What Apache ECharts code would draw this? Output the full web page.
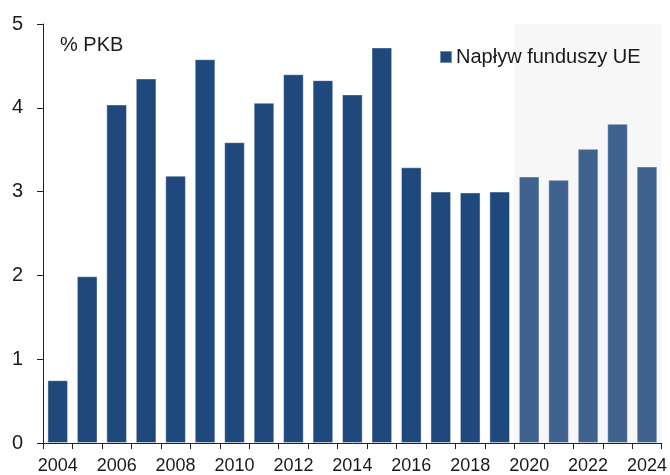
<!DOCTYPE html>
<html>
<head>
<meta charset="utf-8">
<script src="https://cdn.jsdelivr.net/npm/echarts@6/dist/echarts.min.js"></script>
<style>
  html, body { margin: 0; padding: 0; background: #fff; }
  #chart { width: 670px; height: 475px; }
</style>
</head>
<body>
<div id="chart"></div>
<script>
  // lata
  const years = ['2004', '2005', '2006', '2007', '2008', '2009', '2010', '2011', '2012', '2013', '2014',
    '2015', '2016', '2017', '2018', '2019', '2020', '2021', '2022', '2023', '2024'];
  // napływ funduszy UE, % PKB
  const inflow = [0.75, 1.99, 4.04, 4.35, 3.19, 4.58, 3.59, 4.06, 4.40, 4.33, 4.16,
    4.72, 3.29, 3.00, 2.99, 3.00, 3.18, 3.14, 3.51, 3.81, 3.30];
  // od tego roku tlo szare i jasniejsze slupki
  const shadeFrom = '2020';
  const shadeTop = 5;

  const dark = '#1f497c';
  const light = '#40628e';
  const fontName = '"Liberation Sans", Arial, sans-serif';

  const startIdx = years.indexOf(shadeFrom);
  const barData = inflow.map((v, i) => i >= startIdx ? {value: v, itemStyle: {color: light}} : v);
  const shadeData = years.map((y, i) => i >= startIdx ? shadeTop : null);

  const myChart = echarts.init(document.getElementById('chart'), null, {renderer: 'canvas'});
  myChart.setOption({
    animation: false,
    textStyle: {fontFamily: fontName},
    title: {
      text: '% PKB',
      left: 60,
      top: 35,
      padding: 0,
      textStyle: {fontSize: 20, fontWeight: 'normal', color: '#1a1a1a', fontFamily: fontName}
    },
    legend: {
      data: ['Napływ funduszy UE'],
      left: 439,
      top: 47,
      padding: 0,
      icon: 'rect',
      itemWidth: 12,
      itemHeight: 12,
      itemGap: 0,
      textStyle: {fontSize: 20, color: '#1a1a1a', padding: [0, 0, 0, -1]}
    },
    grid: {left: 43, right: 7, top: 24, bottom: 32, containLabel: false},
    xAxis: [{
      type: 'category',
      data: years,
      axisLine: {lineStyle: {color: '#222', width: 1}},
      axisTick: {show: true, interval: 0, length: 6, lineStyle: {color: '#222'}},
      axisLabel: {interval: 1, fontSize: 18, color: '#1a1a1a', margin: 14}
    }, {
      type: 'category',
      data: years,
      show: false
    }],
    yAxis: {
      type: 'value',
      min: 0,
      max: 5,
      interval: 1,
      splitLine: {show: false},
      axisLine: {show: true, lineStyle: {color: '#222', width: 1}},
      axisTick: {show: true, length: 6, lineStyle: {color: '#222'}},
      axisLabel: {fontSize: 20, color: '#1a1a1a', margin: 20}
    },
    series: [{
      name: 'tlo',
      type: 'bar',
      xAxisIndex: 1,
      data: shadeData,
      barWidth: '100%',
      silent: true,
      z: -1,
      itemStyle: {color: '#f7f7f7'}
    }, {
      name: 'Napływ funduszy UE',
      type: 'bar',
      data: barData,
      barWidth: '70%',
      itemStyle: {color: dark, borderColor: 'rgba(255,255,255,0.4)', borderWidth: 1}
    }]
  });
</script>
</body>
</html>
